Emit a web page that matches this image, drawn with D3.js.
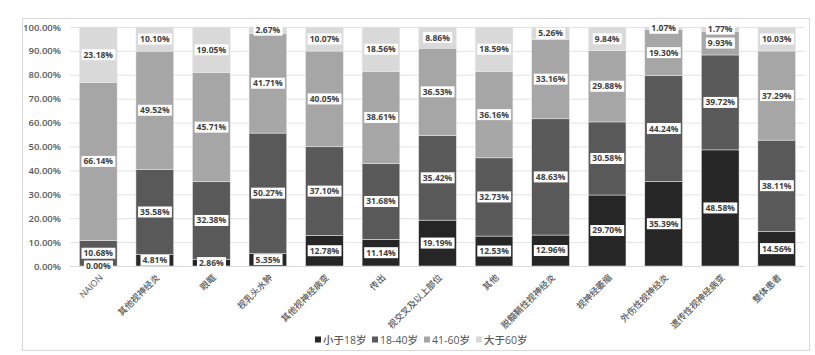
<!DOCTYPE html>
<html><head><meta charset="utf-8">
<script src="https://cdn.jsdelivr.net/npm/d3@7"></script>
<style>
body{margin:0;background:#fff;}
text{font-family:"Open Sans","Noto Sans CJK SC",sans-serif;}
</style></head>
<body><svg id="c" width="815" height="355"></svg>
<script>
const categories=["NAION","其他视神经炎","眼眶","视乳头水肿","其他视神经病变","传出","视交叉及以上部位","其他","脱髓鞘性视神经炎","视神经萎缩","外伤性视神经炎","遗传性视神经病变","整体患者"];
const seriesNames=["小于18岁","18-40岁","41-60岁","大于60岁"];
const under18=[0.00,4.81,2.86,5.35,12.78,11.14,19.19,12.53,12.96,29.70,35.39,48.58,14.56];
const age18to40=[10.68,35.58,32.38,50.27,37.10,31.68,35.42,32.73,48.63,30.58,44.24,39.72,38.11];
const age41to60=[66.14,49.52,45.71,41.71,40.05,38.61,36.53,36.16,33.16,29.88,19.30,9.93,37.29];
const over60=[23.18,10.10,19.05,2.67,10.07,18.56,8.86,18.59,5.26,9.84,1.07,1.77,10.03];
const yTicks=[0,10,20,30,40,50,60,70,80,90,100];
const colors=["#262626","#595959","#a6a6a6","#d9d9d9"];

const svg=d3.select("#c");
svg.append("rect").attr("x",22.5).attr("y",18.5).attr("width",787).attr("height",332).attr("fill","#fff").attr("stroke","#d9d9d9");
const m={l:70,r:805,t:27,b:266};
const x=d3.scaleBand().domain(categories).range([m.l,m.r]).paddingInner(0.333).paddingOuter(0.1665);
const y=d3.scaleLinear().domain([0,100]).range([m.b,m.t]);

// grid
svg.append("g").selectAll("line").data(yTicks).join("line")
 .attr("x1",m.l).attr("x2",m.r).attr("y1",d=>y(d)+0.5).attr("y2",d=>y(d)+0.5)
 .attr("stroke","#e3e3e3").attr("stroke-width",1);

// y axis
const ya=svg.append("g").attr("transform",`translate(${m.l},0)`)
 .call(d3.axisLeft(y).tickValues(yTicks).tickSize(0).tickPadding(9).tickFormat(d=>d.toFixed(2)+"%"));
ya.select(".domain").remove();
ya.selectAll("text").attr("font-size","9.5px").attr("font-weight","600").attr("fill","#595959");

const rows=categories.map((c,i)=>({cat:c,v:[under18[i],age18to40[i],age41to60[i],over60[i]]}));
const stackData=rows.map(r=>({cat:r.cat,s0:r.v[0],s1:r.v[1],s2:r.v[2],s3:r.v[3]}));
const stack=d3.stack().keys(["s0","s1","s2","s3"])(stackData);

const gB=svg.append("g");
stack.forEach((layer,k)=>{
  gB.selectAll(null).data(layer).join("rect")
   .attr("x",d=>x(d.data.cat)).attr("width",x.bandwidth())
   .attr("y",d=>y(d[1])).attr("height",d=>y(d[0])-y(d[1]))
   .attr("fill",colors[k]).attr("stroke","#ececec").attr("stroke-width",0.5);
});
// axis line
svg.append("line").attr("x1",m.l).attr("x2",m.r).attr("y1",m.b+0.5).attr("y2",m.b+0.5).attr("stroke","#d9d9d9");

// labels
const gL=svg.append("g");
stack.forEach((layer,k)=>{
  layer.forEach(d=>{
    const val=d[1]-d[0];
    const cx=x(d.data.cat)+x.bandwidth()/2;
    const cy=(y(d[0])+y(d[1]))/2;
    const g=gL.append("g");
    const t=g.append("text").attr("x",cx).attr("y",cy).attr("dy","0.35em").attr("text-anchor","middle")
      .attr("font-size","8.5px").attr("font-weight","700").attr("fill","#404040").text(val.toFixed(2)+"%");
    const bb=t.node().getBBox();
    g.insert("rect","text").attr("x",bb.x-2).attr("y",cy-5.5).attr("width",bb.width+4).attr("height",11).attr("fill","#fff");
  });
});

// x labels
svg.append("g").selectAll("text").data(categories).join("text")
 .attr("transform",d=>`translate(${x(d)+x.bandwidth()/2+3},${m.b+10}) rotate(-45)`)
 .attr("text-anchor","end").attr("dy","0.35em").attr("font-size","9px").attr("font-weight","500").attr("fill","#595959").text(d=>d);

// legend
const legX=[315,372,424,476];
const lg=svg.append("g");
seriesNames.forEach((n,i)=>{
  lg.append("rect").attr("x",legX[i]).attr("y",336.5).attr("width",6).attr("height",6).attr("fill",colors[i]);
  lg.append("text").attr("x",legX[i]+8).attr("y",340).attr("dy","0.35em").attr("font-size","10.5px").attr("font-weight","500").attr("fill","#595959").text(n);
});
</script></body></html>
